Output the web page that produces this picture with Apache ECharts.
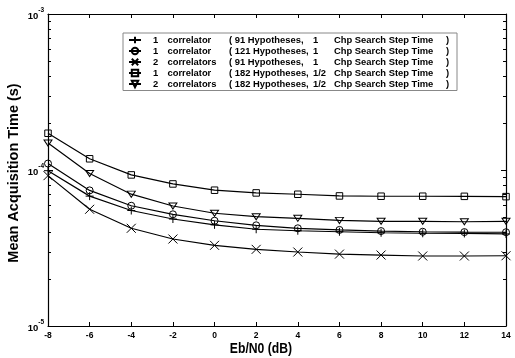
<!DOCTYPE html>
<html>
<head>
<meta charset="utf-8">
<script src="https://cdn.jsdelivr.net/npm/echarts@6/dist/echarts.min.js"></script>
<style>
  html, body { margin: 0; padding: 0; background: #fff; }
  #chart { width: 515px; height: 358px; }
</style>
</head>
<body>
<div id="chart"></div>
<script>
// Eb/N0 (dB) sample points
const ebn0 = [-8, -6, -4, -2, 0, 2, 4, 6, 8, 10, 12, 14];

// mean acquisition time (s)
const oneCorr91 = [9.9e-5, 6.8e-5, 5.5e-5, 4.85e-5, 4.45e-5, 4.17e-5, 4.08e-5, 4.02e-5, 3.96e-5, 3.93e-5, 3.92e-5, 3.89e-5];
const oneCorr121 = [1.1e-4, 7.4e-5, 5.9e-5, 5.2e-5, 4.73e-5, 4.42e-5, 4.23e-5, 4.13e-5, 4.06e-5, 4.02e-5, 4.0e-5, 3.99e-5];
const twoCorr91 = [9.2e-5, 5.6e-5, 4.23e-5, 3.61e-5, 3.29e-5, 3.1e-5, 2.98e-5, 2.89e-5, 2.85e-5, 2.81e-5, 2.81e-5, 2.82e-5];
const oneCorr182 = [1.72e-4, 1.18e-4, 9.3e-5, 8.14e-5, 7.42e-5, 7.13e-5, 6.99e-5, 6.82e-5, 6.79e-5, 6.79e-5, 6.78e-5, 6.75e-5];
const twoCorr182 = [1.49e-4, 9.5e-5, 7.0e-5, 5.88e-5, 5.28e-5, 5.02e-5, 4.9e-5, 4.75e-5, 4.69e-5, 4.69e-5, 4.66e-5, 4.69e-5];

// legend columns
const legendCount = ['1', '1', '2', '1', '2'];
const legendUnit = ['correlator', 'correlator', 'correlators', 'correlator', 'correlators'];
const legendHyp = ['( 91 Hypotheses,', '( 121 Hypotheses,', '( 91 Hypotheses,', '( 182 Hypotheses,', '( 182 Hypotheses,'];
const legendStep = ['1', '1', '1', '1/2', '1/2'];

// minor ticks of the log axis
const minorTicks = [2e-5, 3e-5, 4e-5, 5e-5, 6e-5, 7e-5, 8e-5, 9e-5, 2e-4, 3e-4, 4e-4, 5e-4, 6e-4, 7e-4, 8e-4, 9e-4];

const font = '"Liberation Sans", Arial, sans-serif';
const lf = 9.4; // legend font size

const allData = [oneCorr91, oneCorr121, twoCorr91, oneCorr182, twoCorr182];
const symbols = [
  'path://M5,0L5,10M0,5L10,5',
  'circle',
  'path://M0,0L10,10M10,0L0,10',
  'rect',
  'path://M0,0L10,0L5,8.66Z'
];
const symbolSizes = [8, 7, 9, 6.5, [8, 7]];

const names = legendCount.map((c, i) =>
  `${c} ${legendUnit[i]} ${legendHyp[i]} ${legendStep[i]} Chp Search Step Time )`);

const chart = echarts.init(document.getElementById('chart'), null, { renderer: 'canvas' });

const lineSeries = allData.map((d, i) => ({
  name: names[i],
  type: 'line',
  data: ebn0.map((x, j) => [x, d[j]]),
  symbol: symbols[i],
  symbolSize: symbolSizes[i],
  symbolKeepAspect: true,
  showAllSymbol: true,
  lineStyle: { color: '#000', width: 1.2 },
  itemStyle: { color: 'transparent', borderColor: '#000', borderWidth: 1 },
  emphasis: { disabled: true },
  z: 3
}));

// all rich columns left aligned, so zrender keeps them in one left-to-right run
const richCol = (extra) => Object.assign({ fontFamily: font, fontWeight: 'bold', fontSize: lf, color: '#000', align: 'left' }, extra);

const axisCommon = {
  axisLine: { onZero: false, lineStyle: { color: '#000', width: 1.2 } },
  splitLine: { show: false }
};

const option = {
  backgroundColor: '#fff',
  animation: false,
  grid: { left: 48, right: 9, top: 14, bottom: 32 },
  legend: {
    data: names,
    orient: 'vertical',
    left: 123,
    top: 33,
    padding: [1.5, 6, 1, 5],
    itemGap: 0,
    itemWidth: 12,
    itemHeight: 8,
    borderColor: '#888',
    borderWidth: 1,
    backgroundColor: '#fff',
    selectedMode: false,
    formatter: name => {
      const i = names.indexOf(name);
      return `{n|${legendCount[i]}}{c|${legendUnit[i]}}{h|${legendHyp[i]}}{s|${legendStep[i]}}{t|Chp Search Step Time}{p|)}`;
    },
    textStyle: {
      color: '#000',
      fontFamily: font,
      fontWeight: 'bold',
      fontSize: lf,
      lineHeight: 11,
      rich: {
        n: richCol({ width: 14.5, padding: [0, 0, 0, 7] }),
        c: richCol({ width: 61.5 }),
        h: richCol({ width: 84 }),
        s: richCol({ width: 21 }),
        t: richCol({ width: 112 }),
        p: richCol({ width: 5 })
      }
    }
  },
  xAxis: [
    Object.assign({
      type: 'value',
      min: -8,
      max: 14,
      interval: 2,
      position: 'bottom',
      axisTick: { inside: true, length: 4, lineStyle: { color: '#000' } },
      axisLabel: { color: '#000', fontFamily: font, fontWeight: 'bold', fontSize: 8.5, margin: 5 }
    }, axisCommon),
    Object.assign({
      type: 'value',
      min: -8,
      max: 14,
      interval: 2,
      position: 'top',
      axisTick: { inside: true, length: 4, lineStyle: { color: '#000' } },
      axisLabel: { show: false }
    }, axisCommon)
  ],
  yAxis: [
    Object.assign({
      type: 'log',
      logBase: 10,
      min: 1e-5,
      max: 1e-3,
      position: 'left',
      axisTick: { inside: true, length: 5, lineStyle: { color: '#000' } },
      axisLabel: {
        margin: 4,
        formatter: v => `{b|10}{e|${Math.round(Math.log10(v))}}`,
        rich: {
          b: { fontFamily: font, fontWeight: 'bold', fontSize: 9.5, color: '#000', lineHeight: 15, verticalAlign: 'bottom' },
          e: { fontFamily: font, fontWeight: 'bold', fontSize: 6.5, color: '#000', lineHeight: 8, verticalAlign: 'top' }
        }
      }
    }, axisCommon),
    Object.assign({
      type: 'log',
      logBase: 10,
      min: 1e-5,
      max: 1e-3,
      position: 'right',
      axisTick: { inside: true, length: 5, lineStyle: { color: '#000' } },
      axisLabel: { show: false }
    }, axisCommon)
  ],
  graphic: [
    {
      type: 'text',
      x: 14,
      y: 173,
      rotation: Math.PI / 2,
      style: {
        text: 'Mean Acquisition Time (s)',
        fill: '#000',
        font: 'bold 14.5px ' + font,
        align: 'center',
        verticalAlign: 'middle'
      }
    },
    {
      type: 'text',
      x: 261,
      y: 349,
      scaleX: 0.84,
      style: {
        text: 'Eb/N0 (dB)',
        fill: '#000',
        font: 'bold 14.5px ' + font,
        align: 'center',
        verticalAlign: 'middle'
      }
    }
  ],
  series: [
    ...lineSeries,
    {
      type: 'custom',
      silent: true,
      clip: false,
      data: minorTicks.map(v => [-8, v]),
      renderItem: (params, api) => {
        const cs = params.coordSys;
        const y = Math.round(api.coord([-8, api.value(1)])[1]) + 0.5;
        return {
          type: 'group',
          children: [
            { type: 'line', shape: { x1: cs.x, y1: y, x2: cs.x + 3, y2: y }, style: { stroke: '#000', lineWidth: 1 } },
            { type: 'line', shape: { x1: cs.x + cs.width - 3, y1: y, x2: cs.x + cs.width, y2: y }, style: { stroke: '#000', lineWidth: 1 } }
          ]
        };
      },
      z: 2
    }
  ]
};

chart.setOption(option);
window.addEventListener('resize', () => chart.resize());
</script>
</body>
</html>
